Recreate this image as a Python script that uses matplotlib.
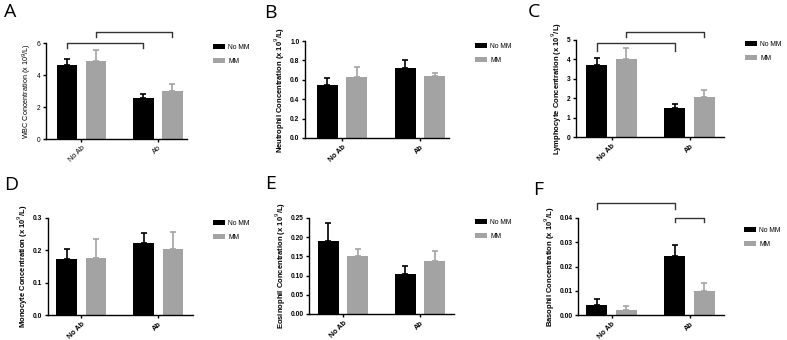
import numpy as np
import matplotlib
matplotlib.use("Agg")
import matplotlib.pyplot as plt

plt.rcParams['font.family'] = ['Liberation Sans', 'DejaVu Sans']

groups = ['No Ab', 'Ab']
series = ['No MM', 'MM']
colors = ['#000000', '#a3a3a3']

# means and upper error (SEM) per panel: [No Ab, Ab] for each series
wbc_no_mm = [4.6, 2.55]
wbc_mm = [4.9, 3.0]
wbc_err_no_mm = [0.4, 0.25]
wbc_err_mm = [0.65, 0.42]

neu_no_mm = [0.55, 0.72]
neu_mm = [0.63, 0.635]
neu_err_no_mm = [0.07, 0.085]
neu_err_mm = [0.1, 0.04]

lym_no_mm = [3.7, 1.5]
lym_mm = [4.0, 2.05]
lym_err_no_mm = [0.35, 0.18]
lym_err_mm = [0.6, 0.35]

mono_no_mm = [0.172, 0.222]
mono_mm = [0.176, 0.205]
mono_err_no_mm = [0.031, 0.032]
mono_err_mm = [0.059, 0.052]

eos_no_mm = [0.19, 0.104]
eos_mm = [0.15, 0.138]
eos_err_no_mm = [0.047, 0.022]
eos_err_mm = [0.019, 0.027]

baso_no_mm = [0.0042, 0.0242]
baso_mm = [0.0021, 0.0101]
baso_err_no_mm = [0.0023, 0.0048]
baso_err_mm = [0.0018, 0.003]

W, H = 787, 340
fig = plt.figure(figsize=(W / 100, H / 100), dpi=100)


def px_axes(left, right, top, bottom):
    return fig.add_axes([left / W, 1 - bottom / H, (right - left) / W, (bottom - top) / H])


# letter, ylabel, data, ymax, ticks, fmt, axes box (px), xlim, legend (px), letter (px), bold
panels = [
    ('A', 'WBC Concentration (x 10$^9$/L)', (wbc_no_mm, wbc_mm, wbc_err_no_mm, wbc_err_mm),
     6, np.arange(0, 7, 2), '{:.0f}', (46, 187, 43, 139), (-0.464, 1.38), (213, 44), (4, 3), False),
    ('B', 'Neutrophil Concentration (x 10$^9$/L)', (neu_no_mm, neu_mm, neu_err_no_mm, neu_err_mm),
     1.0, np.arange(0, 1.01, 0.2), '{:.1f}', (305, 449, 41, 138), (-0.474, 1.37), (475, 43), (264, 4), True),
    ('C', 'Lymphocyte Concentration (x 10$^9$/L)', (lym_no_mm, lym_mm, lym_err_no_mm, lym_err_mm),
     5, np.arange(0, 6, 1), '{:.0f}', (576, 724, 40, 137), (-0.455, 1.44), (745, 41), (528, 3), True),
    ('D', 'Monocyte Concentration (x 10$^9$/L)', (mono_no_mm, mono_mm, mono_err_no_mm, mono_err_mm),
     0.3, np.arange(0, 0.31, 0.1), '{:.1f}', (48, 193, 218, 315), (-0.435, 1.45), (213, 220), (4, 176), True),
    ('E', 'Eosinophil Concentration (x 10$^9$/L)', (eos_no_mm, eos_mm, eos_err_no_mm, eos_err_mm),
     0.25, np.arange(0, 0.251, 0.05), '{:.2f}', (309, 454, 218, 314), (-0.44, 1.44), (475, 219), (265, 175), True),
    ('F', 'Basophil Concentration (x 10$^9$/L)', (baso_no_mm, baso_mm, baso_err_no_mm, baso_err_mm),
     0.04, np.arange(0, 0.041, 0.01), '{:.2f}', (578, 724, 218, 315), (-0.43, 1.44), (744, 227), (533, 181), True),
]

# significance brackets: (x1, x2, y_top, y_tip)
brackets = {
    'A': [(-0.19, 0.81, 6.0, 5.7), (0.19, 1.19, 6.7, 6.4)],
    'C': [(-0.19, 0.81, 4.85, 4.45), (0.19, 1.19, 5.42, 5.15)],
    'F': [(-0.19, 0.81, 0.0462, 0.0438), (0.81, 1.19, 0.0400, 0.0384)],
}

x = np.arange(len(groups))
bw = 0.27
off = 0.19

for letter, ylabel, data, ymax, ticks, fmt, box, xlim, leg, lpos, bold in panels:
    ax = px_axes(*box)
    weight = 'bold' if bold else 'normal'
    no_mm, mm, e_no, e_mm = data
    for i, (vals, errs) in enumerate([(no_mm, e_no), (mm, e_mm)]):
        xs = x + (-off if i == 0 else off)
        ax.bar(xs, vals, bw, color=colors[i], label=series[i], zorder=2)
        ax.errorbar(xs, vals, yerr=[np.zeros(len(vals)), errs], fmt='none',
                    ecolor=colors[i], elinewidth=1.2, capsize=2.5, capthick=1.2, zorder=1)
    ax.set_xlim(*xlim)
    ax.set_ylim(0, ymax)
    ax.set_yticks(ticks)
    ax.set_yticklabels([fmt.format(t) for t in ticks], fontsize=4.8, fontweight=weight)
    ax.set_xticks(x)
    ax.set_xticklabels(groups, rotation=45, ha='right', rotation_mode='anchor',
                       fontsize=5.2, fontweight=weight)
    ax.set_ylabel(ylabel, fontsize=5.5 if bold else 5.2, fontweight=weight, labelpad=2)
    for s in ['top', 'right']:
        ax.spines[s].set_visible(False)
    for s in ['left', 'bottom']:
        ax.spines[s].set_linewidth(1.0)
    ax.tick_params(length=2.5, width=1.0, pad=1.5)

    for x1, x2, yt, ytip in brackets.get(letter, []):
        ax.plot([x1, x1, x2, x2], [ytip, yt, yt, ytip], color='#333333', lw=1.0, clip_on=False)

    ax.legend(loc='upper left', bbox_to_anchor=(leg[0] / W, 1 - leg[1] / H),
              bbox_transform=fig.transFigure, frameon=False, fontsize=4.9,
              handlelength=1.8, handleheight=0.65, borderpad=0, borderaxespad=0,
              labelspacing=1.0, handletextpad=0.45)

    fig.text(lpos[0] / W, 1 - lpos[1] / H, letter, fontsize=14, family='Open Sans',
             va='top', ha='left')

fig.savefig('out.png', dpi=100)
